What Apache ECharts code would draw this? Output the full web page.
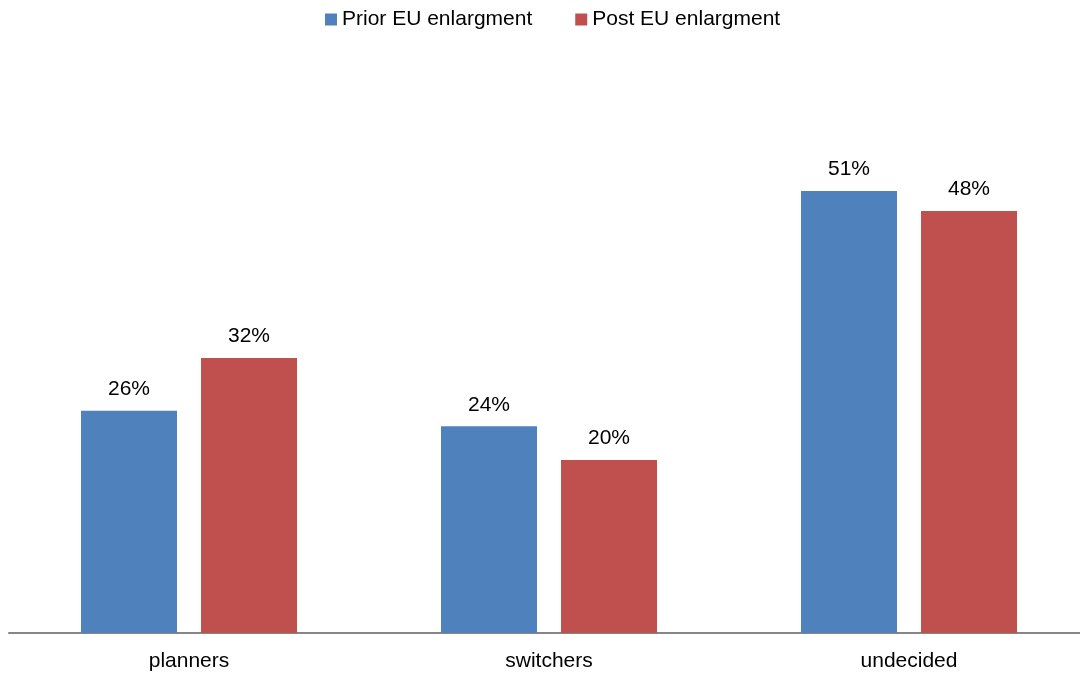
<!DOCTYPE html>
<html>
<head>
<meta charset="utf-8">
<script src="https://cdn.jsdelivr.net/npm/echarts@6/dist/echarts.min.js"></script>
<style>html,body{margin:0;padding:0;background:#fff;}#c{width:1080px;height:675px;}</style>
</head>
<body>
<div id="c"></div>
<script>
const categories = ['planners', 'switchers', 'undecided'];
const priorValues = [25.7, 23.9, 51.1];
const postValues = [31.8, 20.0, 48.8];
const priorLabels = ['26%', '24%', '51%'];
const postLabels = ['32%', '20%', '48%'];
const seriesNames = ['Prior EU enlargment', 'Post EU enlargment'];

const chart = echarts.init(document.getElementById('c'));
const font = 'Liberation Sans, Arial, sans-serif';
chart.setOption({
  animation: false,
  legend: {
    top: 4, left: 320,
    itemWidth: 12, itemHeight: 12, itemGap: 43,
    icon: 'rect',
    textStyle: { fontFamily: font, fontSize: 21, color: '#000' },
    data: seriesNames
  },
  grid: { left: 9, width: 1080, top: 114, bottom: 42, containLabel: false, outerBoundsMode: 'none' },
  xAxis: {
    type: 'category', data: categories,
    axisLine: { lineStyle: { color: '#868686', width: 2 } },
    axisTick: { show: false },
    axisLabel: { fontFamily: font, fontSize: 21, color: '#000', margin: 18 }
  },
  yAxis: { type: 'value', min: 0, max: 60, show: false, splitLine: { show: false } },
  series: [
    {
      name: seriesNames[0], type: 'bar', data: priorValues,
      barWidth: 96, barGap: '25%', barCategoryGap: '40%',
      itemStyle: { color: '#4F81BD' },
      label: { show: true, position: 'top', distance: 11, fontFamily: font, fontSize: 21, color: '#000',
        formatter: p => priorLabels[p.dataIndex] }
    },
    {
      name: seriesNames[1], type: 'bar', data: postValues,
      barWidth: 96, barGap: '25%', barCategoryGap: '40%',
      itemStyle: { color: '#C0504D' },
      label: { show: true, position: 'top', distance: 11, fontFamily: font, fontSize: 21, color: '#000',
        formatter: p => postLabels[p.dataIndex] }
    }
  ]
});
</script>
</body>
</html>
